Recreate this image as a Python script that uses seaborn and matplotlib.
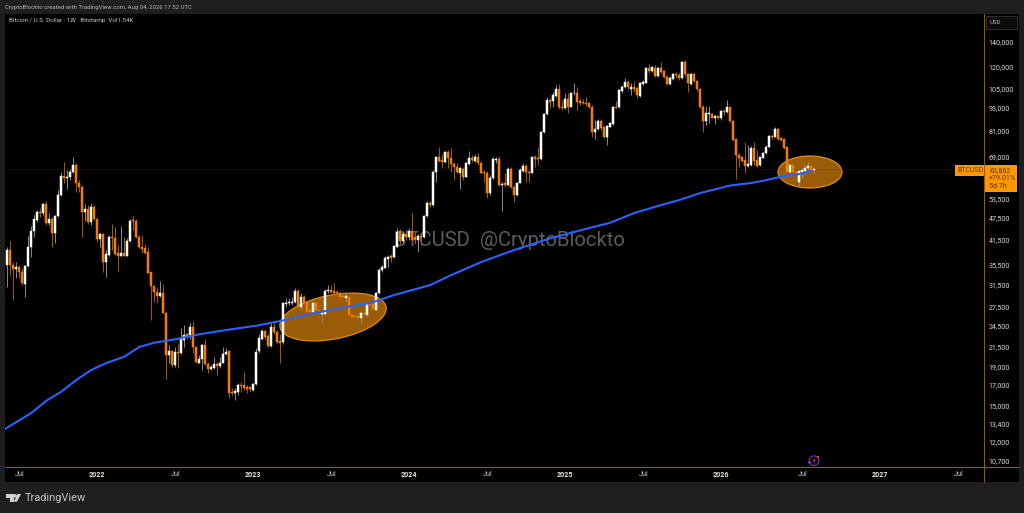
import numpy as np
import pandas as pd
import seaborn as sns
import matplotlib
matplotlib.use('Agg')
import matplotlib.pyplot as plt
from matplotlib.patches import Ellipse, Rectangle, Polygon, Circle
from matplotlib.ticker import NullLocator

# weekly candles, first bar is the week of 7 Jun 2021
first_week = '2021-06-07'

opens = [35600, 38900, 35500, 34600, 35100, 34100, 31600, 35300, 39700, 43700, 46800, 49200, 48700, 51600, 45800, 47100, 43100, 47900, 54500, 61300, 60700, 61000, 62900, 65600, 58800, 57200, 49200, 49900, 46300, 50800,
         47100, 41700, 42900, 36100, 37700, 42200, 42000, 38100, 37600, 38300, 37600, 41100, 46800, 46500, 42100, 39600, 39400, 38400, 33900, 31200, 30000, 29400, 29800, 26500, 20400, 20900, 19200, 20800, 20700, 22400,
         23200, 23100, 24200, 21500, 19500, 19900, 21700, 19300, 18700, 18900, 19300, 19100, 19500, 20600, 20900, 16300, 16200, 16300, 17000, 17000, 16800, 16800, 16500, 17100, 20900, 22600, 23700, 22900, 21600, 24300,
         23600, 22300, 22100, 27900, 28100, 28100, 28300, 30300, 27500, 29100, 28200, 26900, 26600, 28100, 27000, 26200, 26300, 30300, 30400, 30200, 30000, 29800, 29400, 28900, 29200, 26100, 26000, 26000, 25700, 26500,
         26100, 28100, 27900, 27000, 29800, 34400, 34900, 36900, 37400, 37200, 39700, 43600, 41100, 42900, 42100, 43700, 42100, 41400, 42400, 42100, 47900, 52000, 51300, 62900, 68700, 67600, 66600, 71200, 68300, 65800,
         64900, 62600, 63800, 61000, 66000, 68300, 67300, 69000, 66500, 62900, 62600, 55300, 60400, 67600, 68000, 57900, 58600, 58000, 64000, 57200, 54500, 58800, 63300, 65300, 62900, 62600, 69000, 68600, 67900, 80100,
         89500, 97700, 97100, 100100, 104300, 93800, 93200, 98100, 93800, 101800, 102200, 97100, 96500, 96100, 95700, 93800, 80400, 81600, 86100, 82600, 78000, 83000, 84300, 93800, 93400, 103500, 105600, 109100, 104700, 105600,
         105400, 100300, 107800, 108700, 118700, 117000, 118700, 113200, 119200, 116700, 112700, 107600, 111100, 114600, 113700, 111600, 123100, 114400, 107600, 114600, 110000, 104300, 93800, 86100, 89700, 89700, 87500, 88600, 87300, 91300,
         90600, 93400, 86100, 76800, 69700, 68700, 67600, 65300, 65600, 72600, 67600, 65600, 68600, 70400, 73400, 78300, 78000, 81800, 77200, 76800, 73100, 62700, 65600, 62900, 59200, 62900, 63300, 64200, 65200, 63500]

highs = [39700, 41200, 36200, 36200, 35500, 34800, 35500, 42400, 45100, 48200, 49700, 50300, 52000, 52700, 48700, 47800, 48200, 56200, 62900, 66600, 63600, 63800, 68700, 66200, 59800, 58000, 51600, 51300, 51800, 51300,
         47300, 43300, 43300, 38900, 42700, 45600, 44900, 40100, 45200, 42200, 41800, 47000, 47900, 47000, 42700, 42700, 40500, 39700, 34100, 31400, 31100, 32200, 31600, 26700, 21700, 21100, 21500, 21900, 24100, 24600,
         23400, 24900, 25100, 21600, 20400, 21900, 22600, 19600, 19200, 20200, 19600, 20200, 21500, 21300, 21100, 16700, 16700, 17200, 17300, 18400, 17000, 16900, 17200, 21300, 23300, 23900, 23800, 23200, 24900, 25100,
         23800, 23300, 28300, 28900, 28900, 29200, 30900, 30600, 29800, 29500, 28500, 27500, 28300, 28300, 27500, 26700, 30600, 31400, 31400, 31700, 30400, 30100, 29800, 30000, 29300, 26500, 26300, 26400, 26700, 26900,
         28200, 28300, 28500, 30100, 34800, 35500, 37500, 37700, 38000, 40100, 44500, 44200, 43600, 44000, 44500, 48700, 43600, 42900, 42900, 48200, 52600, 52700, 63600, 69300, 73400, 70100, 71600, 71900, 72600, 66600,
         66200, 64900, 64600, 66900, 71600, 69700, 70100, 70400, 67200, 63600, 63300, 61700, 68700, 68700, 69300, 59200, 62300, 64900, 64600, 58000, 59200, 64200, 66200, 65800, 63600, 69300, 69700, 73400, 80800, 90400,
         99700, 98700, 102800, 107100, 107800, 97700, 101800, 101800, 102800, 108700, 106000, 98700, 98100, 99300, 96700, 94800, 86400, 86800, 86800, 83300, 83800, 85500, 94200, 97300, 104300, 107100, 111600, 110500, 108200, 110000,
         106000, 109300, 110500, 119400, 121900, 120400, 121100, 119900, 123600, 117500, 113900, 113200, 115600, 116300, 115100, 124400, 124900, 115100, 115600, 115100, 110500, 105000, 94800, 94200, 94200, 90000, 89100, 88900, 91900, 92300,
         97700, 93800, 86400, 77200, 70400, 69300, 75700, 74100, 73700, 75700, 71900, 69000, 71200, 74100, 78800, 78800, 82600, 82100, 77700, 77200, 73400, 65800, 65800, 63600, 63600, 64200, 65600, 66900, 65600, 64200]

lows = [31100, 33400, 28600, 32700, 32700, 31400, 29200, 35100, 37200, 42200, 46300, 47600, 48200, 45400, 45400, 39600, 40700, 47600, 54300, 58600, 56500, 59800, 62300, 55700, 55700, 42100, 46600, 45600, 45400, 46800,
        41000, 39600, 33900, 32900, 37500, 38900, 37700, 34300, 37400, 37400, 37400, 41000, 44000, 41800, 39300, 38300, 38000, 33700, 25400, 28300, 28100, 29200, 26400, 17600, 19400, 19000, 19000, 18900, 20600, 21500,
        22600, 22600, 20700, 19400, 19400, 18600, 19200, 18300, 18600, 18800, 18100, 18900, 19400, 20400, 15700, 16000, 15500, 16000, 16300, 16500, 16200, 16300, 16400, 17000, 20700, 22400, 22600, 21400, 21400, 23300,
        22000, 19500, 21900, 27500, 27800, 27800, 28100, 27200, 26900, 27800, 26500, 26100, 26400, 26700, 25600, 24800, 26100, 29800, 29800, 29700, 29500, 28900, 28600, 28300, 25900, 25400, 25300, 25300, 24900, 26100,
        25900, 27500, 26700, 26900, 29700, 34100, 34800, 35000, 36200, 37000, 39600, 40500, 40700, 41500, 41400, 41100, 40500, 38500, 40100, 41800, 47600, 50800, 51000, 59200, 66900, 64200, 66200, 64200, 62900, 59800,
        62300, 56500, 59800, 60800, 65600, 66900, 66900, 65600, 62300, 59200, 53400, 54500, 60000, 66200, 57600, 49500, 57400, 57600, 56800, 52400, 54200, 58600, 62900, 59200, 59200, 62300, 64900, 65600, 67600, 79600,
        89100, 92800, 93800, 99700, 92300, 91900, 92300, 90000, 93400, 100800, 91900, 94800, 95100, 94200, 92800, 78000, 76800, 81300, 81300, 77200, 74100, 82600, 83800, 92800, 92800, 102200, 105000, 103900, 100800, 102800,
        98700, 99700, 107100, 108200, 115100, 116300, 112300, 112300, 115600, 111600, 106900, 107100, 110500, 111600, 110500, 110900, 113200, 102800, 106900, 109300, 103500, 92800, 80400, 83800, 84700, 87300, 84300, 86800, 86400, 89100,
        90000, 85500, 76100, 60000, 64900, 66900, 62300, 64900, 65200, 65600, 64900, 65300, 68300, 70100, 73100, 76800, 77700, 76400, 76100, 72500, 62600, 62300, 62300, 59200, 57400, 60400, 62300, 63600, 62600, 62000]

closes = [38920, 35490, 34630, 35130, 34070, 31720, 35280, 39720, 43730, 46980, 49240, 48940, 51610, 45840, 47070, 43110, 47950, 54540, 61290, 60660, 61040, 62940, 65570, 58590, 57170, 49240, 49950, 46310, 50770, 47070,
          41720, 42930, 36080, 37900, 42240, 41810, 37970, 37590, 38290, 37590, 41130, 46590, 46500, 42060, 39560, 39080, 38290, 33860, 31200, 30010, 29410, 29830, 26490, 20430, 20940, 19180, 20770, 20640, 22490, 23100,
          22960, 24210, 21420, 19530, 19900, 21720, 19330, 18710, 18940, 19290, 19100, 19490, 20560, 20850, 16210, 16210, 16410, 17000, 16890, 16650, 16550, 16550, 17070, 20850, 22630, 23670, 22860, 21590, 24310, 23580,
          22170, 22040, 28050, 28170, 28230, 28280, 30260, 27490, 29110, 28170, 26660, 26660, 28050, 26930, 26380, 26380, 30320, 30450, 30140, 29950, 29830, 29230, 29110, 29350, 26120, 25850, 25740, 25590, 26490, 26280,
          27940, 27770, 27040, 29950, 34420, 34990, 36980, 37360, 37130, 39880, 43550, 41130, 42930, 42060, 43730, 41380, 41380, 42410, 42060, 47950, 52030, 51300, 62940, 68730, 67330, 66920, 71160, 68300, 65840, 64900,
          62940, 64240, 61040, 66240, 68300, 67610, 69010, 66240, 62550, 62300, 55330, 60660, 67890, 68170, 57990, 58350, 57990, 63980, 57170, 54540, 58830, 63590, 65300, 62680, 62300, 69010, 68030, 67890, 80290, 89660,
          97710, 96710, 100540, 104320, 93410, 92840, 98110, 93790, 102200, 102200, 96710, 96120, 95730, 95340, 93790, 80450, 81780, 86070, 82110, 77700, 83300, 84670, 93410, 93220, 103890, 106040, 109120, 105600, 105600, 104320,
          100540, 108230, 108890, 118660, 116740, 119390, 113210, 118660, 116260, 112750, 107570, 111600, 114610, 113670, 111600, 123120, 114370, 108230, 114610, 110010, 104320, 93410, 86070, 90030, 90030, 87670, 88570, 87310, 91330, 90580,
          93410, 86070, 76440, 69720, 68300, 67330, 65300, 65970, 72630, 67330, 65300, 68730, 70720, 73370, 78340, 77700, 81780, 76910, 76440, 72930, 62940, 65570, 62680, 62550, 63330, 63590, 64500, 65170, 63200, 63862]

# long moving average, read every few weeks
ma_weeks = [-1, 8, 13, 18, 23, 28, 33, 39, 44, 49, 56, 64, 73, 83, 91, 101, 111, 121, 129, 141, 148, 158, 169, 181, 194, 201, 209, 218, 224, 231, 241, 248, 252, 259, 264, 268]
ma_values = [12950, 14310, 15430, 16310, 17530, 18640, 19450, 20220, 21460, 22030, 22500, 23200, 23820, 24460, 25170, 26280, 27260, 28110, 29530, 31390, 33380, 36160, 38920, 41820, 44540, 46020, 48840, 51290, 52890, 55210, 57820, 58710, 59550, 61290, 62040, 63310]

price_ticks = [140000, 120000, 105000, 93000, 81000, 69000, 53500, 47500, 41500, 35500, 31500, 27500, 24500, 21500, 19000, 17000, 15000, 13400, 12000, 10700]
date_ticks = ['2021-07-05', '2022-01-03', '2022-07-04', '2023-01-02', '2023-07-03', '2024-01-01', '2024-07-01', '2024-12-30', '2025-06-30', '2025-12-29', '2026-07-06', '2027-01-04', '2027-07-05']
date_labels = ['Jul', '2022', 'Jul', '2023', 'Jul', '2024', 'Jul', '2025', 'Jul', '2026', 'Jul', '2027', 'Jul']

ORANGE = '#f57c00'
LABEL = '#ff9800'
AXIS_LINE = '#94580a'

sns.set_theme(style='dark')
plt.rcParams['font.family'] = ['Roboto', 'DejaVu Sans']

df = pd.DataFrame({'date': pd.date_range(first_week, periods=len(closes), freq='7D'),
                   'open': opens, 'high': highs, 'low': lows, 'close': closes})
df['up'] = df['close'] >= df['open']
start = pd.Timestamp(first_week)
ma = pd.DataFrame({'date': [start + pd.Timedelta(weeks=w) for w in ma_weeks], 'value': ma_values})

fig = plt.figure(figsize=(10.24, 5.13), dpi=100, facecolor='#1e1e1e')


def pixel_axes(zorder):
    a = fig.add_axes([0, 0, 1, 1], zorder=zorder)
    a.set_xlim(0, 1024)
    a.set_ylim(513, 0)
    a.axis('off')
    return a


back = pixel_axes(0)
front = pixel_axes(2)

back.add_patch(Rectangle((5, 14), 1014, 468, color='black', lw=0))
back.add_patch(Ellipse((333, 317), 108, 44, angle=-11, fc='#9a5c06', ec='#e08a10', lw=0.9))
back.add_patch(Ellipse((810, 172), 64, 32, fc='#9a5c06', ec='#e08a10', lw=0.9))
back.text(394, 240, 'BTCUSD  @CryptoBlockto', color='#5c5c5c', fontsize=14.6, va='center')

ax = fig.add_axes([5 / 1024, (513 - 467) / 513, 979 / 1024, 453 / 513], zorder=1)
ax.patch.set_visible(False)
for s in ax.spines.values():
    s.set_visible(False)

ax.set_yscale('log')
ax.axhline(closes[-1], color='#4a3110', lw=0.5, ls=':', zorder=0.5)

wick_colors = np.where(df['up'], '#8c8c8c', '#a55c00')
ax.vlines(df['date'], df['low'], df['high'], colors=wick_colors, lw=0.7, zorder=1)
body_colors = np.where(df['up'], 'white', ORANGE)
ax.bar(df['date'], (df['close'] - df['open']).abs(), bottom=df[['open', 'close']].min(axis=1),
       width=4.8, color=body_colors, edgecolor=body_colors, lw=0.35, zorder=2)
sns.lineplot(data=ma, x='date', y='value', color='#2962ff', lw=1.5, ax=ax, legend=False, zorder=3)

ax.set_xlim(start - pd.Timedelta(days=5.44), start + pd.Timedelta(days=2278.9))
ax.set_ylim(10275, 165640)
ax.set_xlabel('')
ax.set_ylabel('')
ax.yaxis.set_minor_locator(NullLocator())
ax.yaxis.tick_right()
ax.set_yticks(price_ticks, [f'{p:,}' for p in price_ticks])
ax.set_xticks(pd.to_datetime(date_ticks), date_labels)
ax.tick_params(axis='y', length=0, pad=3.2, labelsize=5.1, labelcolor='#d8d8d8')
ax.tick_params(axis='x', length=0, pad=2.6, labelsize=5.1, labelcolor='#cfcfcf')
for t in ax.get_xticklabels():
    if t.get_text() != 'Jul':
        t.set_fontweight('bold')
        t.set_color('#e4e4e4')

# axis lines and the labels on top
front.plot([5, 1019], [467, 467], color=AXIS_LINE, lw=0.8)
front.plot([984.3, 984.3], [14, 482], color=AXIS_LINE, lw=0.8)

front.text(5, 7.5, 'CryptoBlockto created with TradingView.com, Aug 04, 2026 17:52 UTC', color='#b4b4b4', fontsize=4.35, va='center')
front.text(9, 20.5, 'Bitcoin / U.S. Dollar · 1W · Bitstamp  Vol1.54K', color='#c8c8c8', fontsize=4.5, va='center')

front.add_patch(Rectangle((986, 15.7), 31, 13.3, fc='#0c0c0c', ec='#2c2c2c', lw=0.7))
front.text(990, 22.5, 'USD', color='#b0b0b0', fontsize=4.4, va='center')

front.add_patch(Rectangle((955, 165), 29.3, 10.7, color=LABEL, lw=0))
front.add_patch(Rectangle((984.3, 165), 32.7, 26.7, color=LABEL, lw=0))
front.text(957, 170.4, 'BTCUSD', color='#5a3500', fontsize=5, va='center')
front.text(989, 170.2, '63,862', color='#5a3500', fontsize=5.1, va='center')
front.text(989, 178.2, '+79.01%', color='#5a3500', fontsize=5.1, va='center')
front.text(989, 186.6, '5d 7h', color='#5a3500', fontsize=5.1, va='center')

# logo at the bottom
front.add_patch(Polygon([(6, 494), (13.5, 494), (13.5, 501.7), (10, 501.7), (10, 497.5), (6, 497.5)], color='#d0d0d0', lw=0))
front.add_patch(Circle((15.2, 495.8), 1.7, color='#d0d0d0', lw=0))
front.add_patch(Polygon([(17.5, 494), (21, 494), (17, 501.7), (13.7, 501.7)], color='#d0d0d0', lw=0))
front.text(24.5, 498, 'TradingView', color='#c4c4c4', fontsize=7.9, va='center')

# small news icon
front.add_patch(Circle((814, 460.7), 4.8, fc='none', ec='#7b2d8e', lw=0.9))
front.add_patch(Polygon([(815, 457.5), (812.6, 461), (814.2, 461), (813.2, 464), (815.8, 460), (814.2, 460)], color='#c2339c', lw=0))
front.add_patch(Circle((818, 456.8), 1.1, color='#f23645', lw=0))
front.add_patch(Circle((809.5, 462.5), 1.3, color='#5b5bff', lw=0))

fig.savefig('out.png', dpi=100, facecolor=fig.get_facecolor())
